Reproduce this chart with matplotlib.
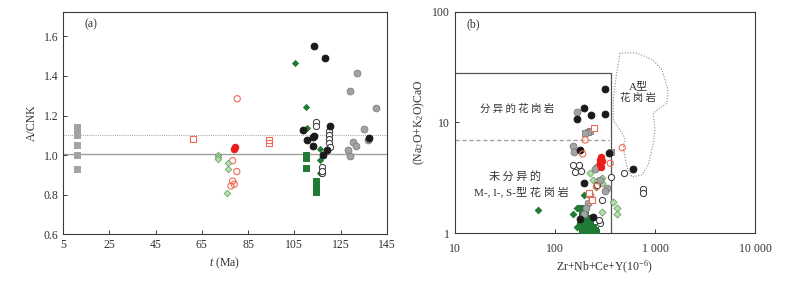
import matplotlib
matplotlib.use("Agg")
import matplotlib.pyplot as plt
import numpy as np
from matplotlib.ticker import FixedLocator, NullLocator, FixedFormatter

plt.rcParams['font.family'] = ['Liberation Serif', 'Noto Sans CJK SC', 'DejaVu Sans']
plt.rcParams['mathtext.fontset'] = 'custom'
plt.rcParams['mathtext.rm'] = 'Liberation Serif'
plt.rcParams['mathtext.it'] = 'Liberation Serif:italic'

# ---------------- panel (a): A/CNK vs age ----------------
a_gray_sq_t = [11, 11, 11, 11, 11, 11]
a_gray_sq_y = [1.14, 1.12, 1.10, 1.05, 1.00, 0.93]
a_red_sq_t = [61, 94, 94.2]
a_red_sq_y = [1.08, 1.063, 1.076]
a_red_dot_t = [79, 79.2]
a_red_dot_y = [1.03, 1.04]
a_red_oc_t = [80.3, 78.3, 80.1, 78.3, 77.6, 79.0]
a_red_oc_y = [1.285, 0.972, 0.917, 0.869, 0.844, 0.853]
a_lgreen_t = [72.1, 72.1, 72.1, 76.2, 76.2, 75.7]
a_lgreen_y = [1.002, 0.99, 0.979, 0.959, 0.928, 0.807]
a_dgreen_dia_t = [105.5, 109.9, 110.6, 116.3, 116.3, 116.3]
a_dgreen_dia_y = [1.465, 1.245, 1.137, 1.033, 0.974, 0.91]
a_dgreen_sq_t = [110.1, 110.1, 110.1, 114.3, 114.3, 114.3, 114.3]
a_dgreen_sq_y = [1.0, 0.985, 0.935, 0.87, 0.85, 0.83, 0.815]
a_black_t = [113.6, 118.3, 108.9, 110.6, 113.2, 112.9, 120.5, 117.3, 119.3, 137.4, 113.5]
a_black_y = [1.551, 1.492, 1.129, 1.075, 1.093, 1.048, 1.149, 0.999, 1.028, 1.088, 1.098]
a_open_t = [114.3, 114.3, 119.8, 119.8, 119.8, 119.8, 120.5, 116.9, 117.1, 117.0]
a_open_y = [1.167, 1.147, 1.122, 1.102, 1.08, 1.06, 1.043, 0.942, 0.91, 0.92]
a_gray_c_t = [132.3, 129.1, 140.3, 135.3, 130.2, 131.5, 128.1, 129.1, 137.1]
a_gray_c_y = [1.415, 1.326, 1.236, 1.13, 1.068, 1.048, 1.026, 0.997, 1.076]

a_xticks = [5, 25, 45, 65, 85, 105, 125, 145]
a_yticks = [0.6, 0.8, 1.0, 1.2, 1.4, 1.6]

# ---------------- panel (b): (Na2O+K2O)/CaO vs Zr+Nb+Ce+Y ----------------
b_black_x = [314, 197, 227, 314, 165, 178, 349, 598, 196, 242, 176]
b_black_y = [19.9, 13.6, 11.7, 11.9, 10.7, 5.65, 5.27, 3.78, 2.83, 1.41, 1.35]
b_gray_c_x = [165, 153, 156, 261, 279, 329, 320, 225, 215, 205, 196, 250]
b_gray_c_y = [12.5, 6.18, 5.46, 4.0, 3.03, 2.55, 2.4, 2.2, 1.86, 1.68, 1.5, 3.8]
b_gray_sq_x = [224, 212, 201, 360]
b_gray_sq_y = [8.4, 8.2, 8.0, 5.4]
b_red_sq_x = [247, 220, 233]
b_red_sq_y = [8.9, 2.33, 2.0]
b_red_oc_x = [200, 189, 471, 357, 261]
b_red_oc_y = [6.95, 5.2, 5.93, 4.28, 2.64]
b_red_dot_x = [282, 290, 285, 295, 288, 280]
b_red_dot_y = [4.6, 4.9, 4.2, 4.5, 4.0, 4.3]
b_open_x = [153, 175, 158, 181, 360, 494, 764, 757, 292, 282, 278, 262]
b_open_y = [4.14, 4.14, 3.6, 3.65, 3.25, 3.48, 2.5, 2.33, 2.0, 1.23, 1.32, 2.7]
b_lgreen_x = [224, 242, 292, 292, 262, 255, 378, 414, 417, 292]
b_lgreen_y = [3.48, 3.03, 2.86, 3.13, 2.95, 2.6, 1.93, 1.68, 1.48, 1.56]
b_dgreen_dia_x = [67, 152, 165, 197, 166, 178]
b_dgreen_dia_y = [1.62, 1.48, 1.68, 2.2, 1.15, 1.25]
b_dgreen_sq_x = [185, 195, 205, 215, 225, 180, 190, 200, 210, 220, 235, 250,
                 185, 200, 215, 230, 245, 260, 190, 205, 220, 240, 182, 198]
b_dgreen_sq_y = [1.45, 1.4, 1.35, 1.3, 1.25, 1.2, 1.25, 1.2, 1.15, 1.1, 1.12, 1.08,
                 1.05, 1.02, 1.05, 1.04, 1.06, 1.03, 1.3, 1.12, 1.38, 1.15, 1.7, 1.55]

# A-type field outline and discrimination lines
atype_x = [447, 414, 383, 383, 447, 501, 481, 525, 590, 736, 857, 962, 1000,
           962, 1318, 1350, 1175, 955, 661, 501, 447]
atype_y = [42.4, 28, 16, 10.5, 8.55, 7.24, 6.0, 3.97, 3.22, 3.36, 4.13, 6.5, 8.55,
           12.2, 15.0, 19.6, 29.8, 36.6, 42.4, 42.4, 42.4]
box_x = [10, 360, 360]
box_y = [28, 28, 1]
frac_x = [10, 350]
frac_y = [7, 7]

b_xticks = [10, 100, 1000, 10000]
b_xlabels = ['10', '100', '1 000', '10 000']
b_yticks = [1, 10, 100]

# ---------------- styles ----------------
BLACK = '#1a1a1a'
GRAY = '#a3a3a3'
GRAY_E = '#7d7d7d'
SALMON = '#f26a55'
RED = '#ee1b1b'
LGREEN = '#b8dcb2'
LGREEN_E = '#6aa764'
DGREEN = '#217a35'
SPINE = '#3a3a3a'
TXT = '#333333'
FS = 8.5

fig = plt.figure(figsize=(7.87, 2.81), dpi=100)
ax1 = fig.add_axes([0.0804, 0.1662, 0.4110, 0.7911])
ax2 = fig.add_axes([0.5781, 0.1698, 0.3812, 0.7886])


def style_axes(ax):
    for s in ax.spines.values():
        s.set_color(SPINE)
        s.set_linewidth(0.8)
    ax.tick_params(direction='in', length=3, width=0.7, color=SPINE,
                   labelsize=FS, labelcolor=TXT, top=False, right=False)


def pts(ax, x, y, marker, s, fc, ec, lw=0.7, z=3):
    ax.scatter(x, y, marker=marker, s=s, facecolor=fc, edgecolor=ec, linewidth=lw, zorder=z)


# panel a
ax1.axhline(1.005, color='#a0a0a0', lw=1.0, zorder=1)
ax1.axhline(1.1, color='#a0a0a0', lw=0.7, ls=(0, (1, 1.2)), zorder=1)
pts(ax1, a_gray_sq_t, a_gray_sq_y, 's', 16, GRAY, GRAY)
pts(ax1, a_red_sq_t, a_red_sq_y, 's', 20, 'none', SALMON, 0.8)
pts(ax1, a_red_oc_t, a_red_oc_y, 'o', 20, 'none', SALMON, 0.8)
pts(ax1, a_red_dot_t, a_red_dot_y, 'o', 22, RED, RED)
pts(ax1, a_lgreen_t, a_lgreen_y, 'D', 11, LGREEN, LGREEN_E, 0.6)
pts(ax1, a_dgreen_sq_t, a_dgreen_sq_y, 's', 24, DGREEN, DGREEN)
pts(ax1, a_dgreen_dia_t, a_dgreen_dia_y, 'D', 9, DGREEN, DGREEN)
pts(ax1, a_open_t, a_open_y, 'o', 20, 'white', '#333333', 0.7)
pts(ax1, a_gray_c_t, a_gray_c_y, 'o', 24, GRAY, GRAY_E, 0.6)
pts(ax1, a_black_t, a_black_y, 'o', 24, BLACK, BLACK)

ax1.set_xlim(5, 145)
ax1.set_ylim(0.6, 1.723)
ax1.xaxis.set_major_locator(FixedLocator(a_xticks))
ax1.yaxis.set_major_locator(FixedLocator(a_yticks))
ax1.yaxis.set_major_formatter(FixedFormatter(['%.1f' % v for v in a_yticks]))
style_axes(ax1)
ax1.set_xlabel('$t$ (Ma)', fontsize=FS, color=TXT, labelpad=3)
ax1.set_ylabel('A/CNK', fontsize=FS, color=TXT, labelpad=4)
ax1.text(0.067, 0.946, '(a)', transform=ax1.transAxes, fontsize=FS,
         color=TXT, va='center', ha='left')

# panel b
ax2.set_xscale('log')
ax2.set_yscale('log')
ax2.plot(box_x, box_y, color='#555555', lw=0.9, zorder=1)
ax2.plot(frac_x, frac_y, color='#a0a0a0', lw=1.0, ls=(0, (3, 2)), zorder=1)
ax2.plot(atype_x, atype_y, color='#8a8a8a', lw=0.8, ls=(0, (1, 1.5)), zorder=1)

pts(ax2, b_dgreen_sq_x, b_dgreen_sq_y, 's', 22, DGREEN, DGREEN)
pts(ax2, b_dgreen_dia_x, b_dgreen_dia_y, 'D', 11, DGREEN, DGREEN)
pts(ax2, b_lgreen_x, b_lgreen_y, 'D', 13, LGREEN, LGREEN_E, 0.6)
pts(ax2, b_open_x, b_open_y, 'o', 20, 'white', '#333333', 0.7)
pts(ax2, b_gray_c_x, b_gray_c_y, 'o', 24, GRAY, GRAY_E, 0.6)
pts(ax2, b_gray_sq_x, b_gray_sq_y, 's', 15, GRAY, GRAY_E, 0.6)
pts(ax2, b_black_x, b_black_y, 'o', 24, BLACK, BLACK)
pts(ax2, b_red_dot_x, b_red_dot_y, 'o', 22, RED, RED)
pts(ax2, b_red_oc_x, b_red_oc_y, 'o', 20, 'none', SALMON, 0.8)
pts(ax2, b_red_sq_x, b_red_sq_y, 's', 20, 'white', SALMON, 0.8)

ax2.set_xlim(10, 10000)
ax2.set_ylim(1, 100)
ax2.xaxis.set_major_locator(FixedLocator(b_xticks))
ax2.xaxis.set_major_formatter(FixedFormatter(b_xlabels))
ax2.xaxis.set_minor_locator(NullLocator())
ax2.yaxis.set_major_locator(FixedLocator(b_yticks))
ax2.yaxis.set_major_formatter(FixedFormatter([str(v) for v in b_yticks]))
ax2.yaxis.set_minor_locator(NullLocator())
style_axes(ax2)
ax2.tick_params(axis='x', pad=7)
ax2.set_xlabel('Zr+Nb+Ce+Y(10$^{-6}$)', fontsize=FS, color=TXT, labelpad=3)
ax2.set_ylabel('(Na$_2$O+K$_2$O)CaO', fontsize=FS, color=TXT, labelpad=4)
ax2.text(0.04, 0.945, '(b)', transform=ax2.transAxes, fontsize=FS,
         color=TXT, va='center', ha='left')

cjk = ['Noto Sans CJK SC', 'DejaVu Sans']
mixed = ['Liberation Serif', 'Noto Sans CJK SC']
ax2.text(42.2, 13.4, '分 异 的 花 岗 岩', fontsize=7.5, family=cjk, color=TXT,
         ha='center', va='center')
ax2.text(39.8, 3.29, '未 分 异 的', fontsize=8, family=cjk, color=TXT,
         ha='center', va='center')
ax2.text(46.4, 2.37, 'M-, I-, S-型 花 岗 岩', fontsize=8, family=mixed, color=TXT,
         ha='center', va='center')
ax2.text(690, 21.3, 'A型', fontsize=8, family=mixed, color=TXT,
         ha='center', va='center')
ax2.text(680, 16.8, '花 岗 岩', fontsize=7.5, family=cjk, color=TXT,
         ha='center', va='center')

fig.savefig('out.png', dpi=100)
